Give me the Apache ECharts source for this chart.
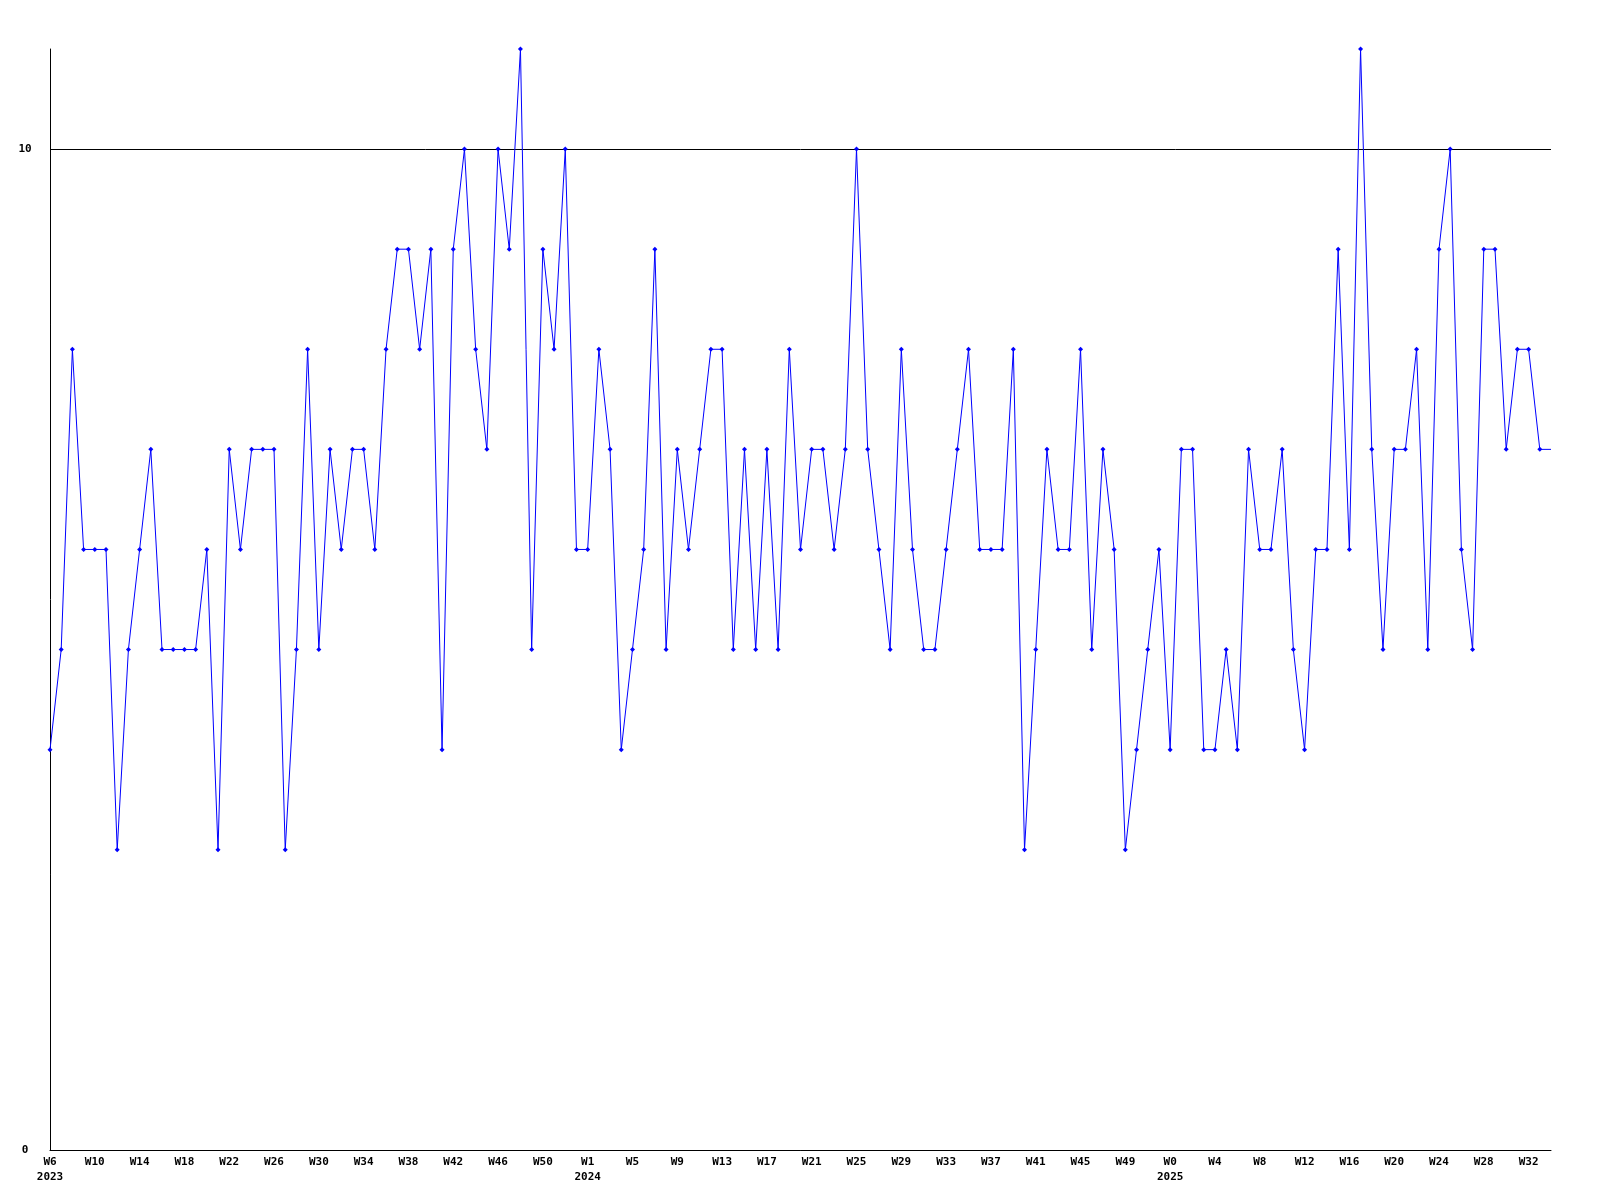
<!DOCTYPE html>
<html>
<head>
<meta charset="utf-8">
<script src="https://cdn.jsdelivr.net/npm/echarts@6/dist/echarts.min.js"></script>
<style>
html,body{margin:0;padding:0;background:#fff;}
#chart{width:1600px;height:1200px;}
</style>
</head>
<body>
<div id="chart"></div>
<script>
// Week categories (year, week number)
const weeks2023 = [6,7,8,9,10,11,12,13,14,15,16,17,18,19,20,21,22,23,24,25,26,27,28,29,30,31,32,33,34,35,36,37,38,39,40,41,42,43,44,45,46,47,48,49,50,51,52];
const weeks2024 = [0,1,2,3,4,5,6,7,8,9,10,11,12,13,14,15,16,17,18,19,20,21,22,23,24,25,26,27,28,29,30,31,32,33,34,35,36,37,38,39,40,41,42,43,44,45,46,47,48,49,50,51,52];
const weeks2025 = [0,1,2,3,4,5,6,7,8,9,10,11,12,13,14,15,16,17,18,19,20,21,22,23,24,25,26,27,28,29,30,31,32,33,34];

// Weekly values
const values2023 = [4,5,8,6,6,6,3,5,6,7,5,5,5,5,6,3,7,6,7,7,7,3,5,8,5,7,6,7,7,6,8,9,9,8,9,4,9,10,8,7,10,9,11,5,9,8,10];
const values2024 = [6,6,8,7,4,5,6,9,5,7,6,7,8,8,5,7,5,7,5,8,6,7,7,6,7,10,7,6,5,8,6,5,5,6,7,8,6,6,6,8,3,5,7,6,6,8,5,7,6,3,4,5,6];
const values2025 = [4,7,7,4,4,5,4,7,6,6,7,5,4,6,6,9,6,11,7,5,7,7,8,5,9,10,6,5,9,9,7,8,8,7,7];

// y-axis ticks
const yTicks = [0, 10];

const categories = [];
const catYears = [];
const catWeeks = [];
[[2023, weeks2023], [2024, weeks2024], [2025, weeks2025]].forEach(([y, ws]) => {
  ws.forEach(w => { categories.push(y + '-W' + w); catYears.push(y); catWeeks.push(w); });
});
const values = values2023.concat(values2024, values2025);
const seriesData = values.map((v, i) => i === values.length - 1 ? {value: v, symbol: 'none'} : v);

const font = {fontFamily: '"DejaVu Sans Mono", monospace', fontWeight: 'bold', fontSize: 11, color: '#000'};

const chart = echarts.init(document.getElementById('chart'), null, {renderer: 'canvas'});
chart.setOption({
  animation: false,
  backgroundColor: '#ffffff',
  grid: {left: 50, right: 49, top: 49, bottom: 50, containLabel: false},
  xAxis: {
    type: 'category',
    data: categories,
    boundaryGap: false,
    axisLine: {show: true, lineStyle: {color: '#000', width: 1}},
    axisTick: {show: false},
    splitLine: {show: false},
    axisLabel: Object.assign({}, font, {
      interval: 3,
      margin: 5,
      lineHeight: 15,
      hideOverlap: false,
      formatter: function (value, index) {
        let s = 'W' + catWeeks[index];
        if (index === 0 || catYears[index] !== catYears[index - 4]) {
          s += '\n' + catYears[index];
        }
        return s;
      }
    })
  },
  yAxis: {
    type: 'value',
    min: yTicks[0],
    max: 11,
    interval: yTicks[1] - yTicks[0],
    axisLine: {show: true, lineStyle: {color: '#000', width: 1}},
    axisTick: {show: false},
    splitLine: {show: true, showMaxLine: false, lineStyle: {color: '#000', width: 1}},
    axisLabel: Object.assign({}, font, {
      align: 'center',
      margin: 25,
      padding: [5, 0, 0, 0],
      showMaxLabel: false,
      formatter: function (v) { return yTicks.indexOf(v) >= 0 ? String(v) : ''; }
    })
  },
  series: [{
    type: 'line',
    data: seriesData,
    symbol: 'diamond',
    symbolSize: 5,
    showAllSymbol: true,
    lineStyle: {color: '#0000ff', width: 1},
    itemStyle: {color: '#0000ff'},
    clip: false
  }]
});
</script>
</body>
</html>
